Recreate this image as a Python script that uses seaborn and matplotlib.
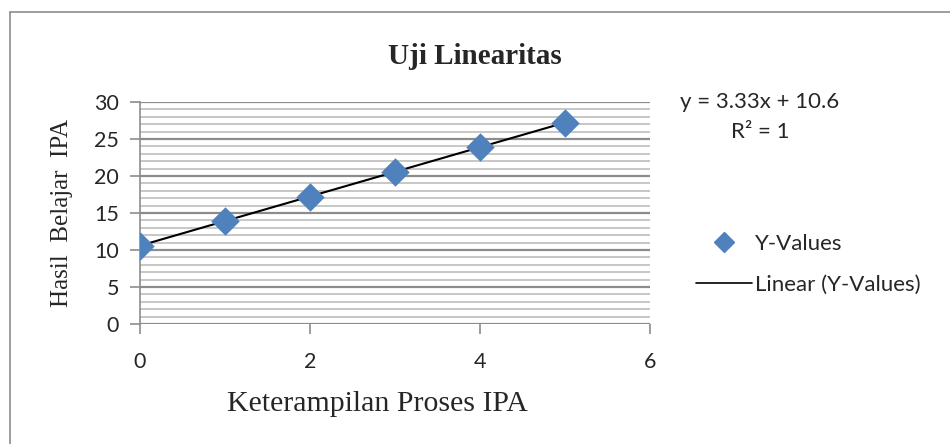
import matplotlib
matplotlib.use("Agg")
import matplotlib.pyplot as plt
from matplotlib.lines import Line2D
import numpy as np
import pandas as pd
import seaborn as sns

# =========================
# DATA
# =========================
keterampilan = [0, 1, 2, 3, 4, 5]
hasil_belajar = [10.6, 13.9, 17.2, 20.6, 23.9, 27.2]
x_ticks = [0, 2, 4, 6]
y_ticks = [0, 5, 10, 15, 20, 25, 30]

df = pd.DataFrame({"x": keterampilan, "y": hasil_belajar})

# trendline (linear fit)
slope, intercept = np.polyfit(df["x"], df["y"], 1)
r2 = np.corrcoef(df["x"], df["y"])[0, 1] ** 2
df["fit"] = slope * df["x"] + intercept

sns.set_style("white")
plt.rcParams["font.family"] = ["Lato", "DejaVu Sans"]

fig = plt.figure(figsize=(9.5, 4.44), dpi=100)
ax = fig.add_axes([0.1474, 0.2703, 0.5368, 0.5])

blue = "#4F81BD"

# gridlines
for v in range(0, 31):
    major = v % 5 == 0
    ax.axhline(v, color="#8C8C8C" if major else "#BEBEBE",
               lw=1.6 if major else 1.2, zorder=0)

sns.lineplot(data=df, x="x", y="fit", color="black", lw=1.5, ax=ax, zorder=2)
sns.scatterplot(data=df, x="x", y="y", marker="D", s=210, color=blue,
                edgecolor=blue, linewidth=0, ax=ax, zorder=3)

ax.set_xlim(0, 6)
ax.set_ylim(0, 30)
ax.set_xticks(x_ticks)
ax.set_yticks(y_ticks)
ax.tick_params(axis="both", direction="out", length=7, width=1.2,
               color="#8C8C8C", labelsize=15.5, left=True, bottom=True)
ax.tick_params(axis="x", pad=13)
ax.tick_params(axis="y", pad=8)
for s in ["top", "right"]:
    ax.spines[s].set_visible(False)
ax.spines["left"].set_color("#8C8C8C")
ax.spines["left"].set_linewidth(1.2)
ax.spines["bottom"].set_visible(False)

ax.set_xlabel("Keterampilan Proses IPA", family="Liberation Serif",
              fontsize=21.5, va="center")
ax.xaxis.set_label_coords(0.465, -0.36)
ax.set_ylabel("Hasil  Belajar  IPA", family="Liberation Serif",
              fontsize=18, va="center")
ax.yaxis.set_label_coords(-0.153, 0.5)

fig.text(0.5, 0.872, "Uji Linearitas", ha="center", va="center",
         family="Liberation Serif", fontweight="bold", fontsize=21)

# equation
fig.text(0.8, 0.77, f"y = {slope:.2f}x + {intercept:.1f}", ha="center",
         va="center", fontsize=16)
fig.text(0.8, 0.703, f"R\u00b2 = {r2:.0f}", ha="center", va="center",
         fontsize=16)

handles = [
    Line2D([], [], marker="D", color=blue, ls="none", markersize=10),
    Line2D([], [], color="black", lw=1.2),
]
fig.legend(handles, ["Y-Values", "Linear (Y-Values)"], loc="center left",
           bbox_to_anchor=(0.733, 0.405), frameon=False, fontsize=16,
           handlelength=2.5, handletextpad=0.15, labelspacing=0.95,
           borderpad=0, borderaxespad=0)

# chart border (top and left edges)
fig.add_artist(Line2D([0.011, 0.011], [0, 0.973], color="#8C8C8C", lw=1.2,
                      transform=fig.transFigure))
fig.add_artist(Line2D([0.011, 1.0], [0.973, 0.973], color="#8C8C8C", lw=1.2,
                      transform=fig.transFigure))

fig.savefig("out.png", dpi=100)
